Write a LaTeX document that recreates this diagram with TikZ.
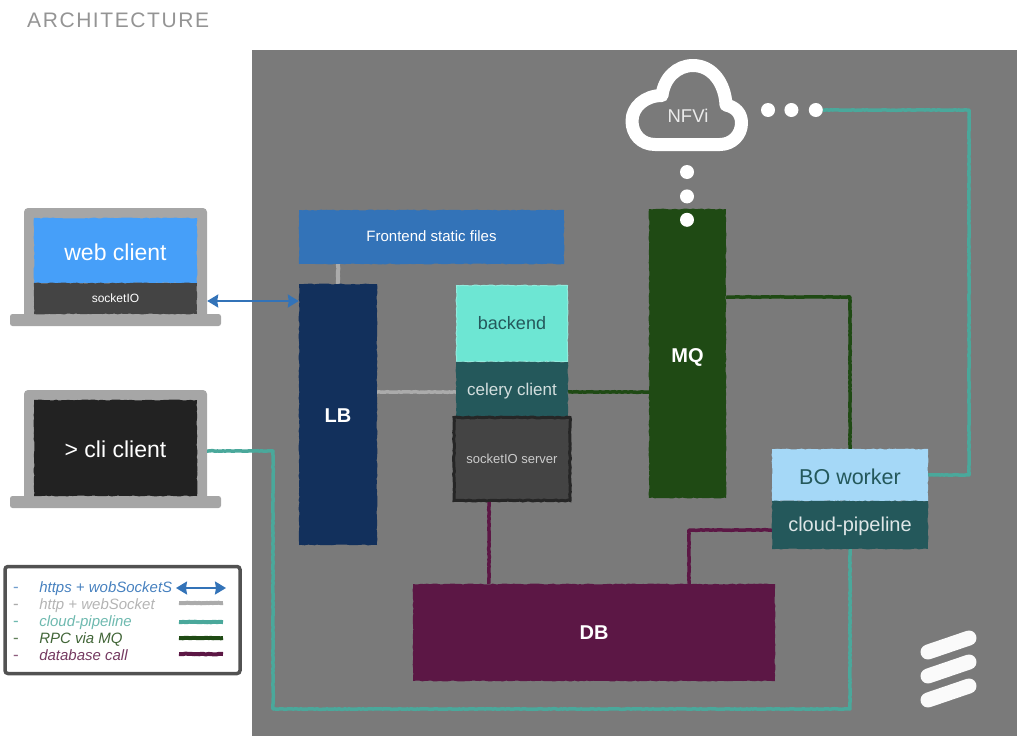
\documentclass[tikz,border=0pt]{standalone}
\usepackage{fontspec}
\setmainfont{Liberation Sans}
\newfontfamily\titlefont[LetterSpace=7.5]{Liberation Sans}
\usetikzlibrary{positioning}
\usetikzlibrary{arrows.meta}
\usetikzlibrary{decorations.pathmorphing}
\definecolor{bggray}{HTML}{7A7A7A}
\definecolor{lidgray}{HTML}{A6A6A6}
\definecolor{webblue}{HTML}{469FF9}
\definecolor{darkscreen}{HTML}{444444}
\definecolor{cliblack}{HTML}{222222}
\definecolor{frontblue}{HTML}{3373B8}
\definecolor{lbnavy}{HTML}{12305C}
\definecolor{backmint}{HTML}{6DE6D3}
\definecolor{celerytl}{HTML}{24585B}
\definecolor{mqgreen}{HTML}{1F4A14}
\definecolor{boblue}{HTML}{A5D8F7}
\definecolor{dbplum}{HTML}{5C1745}
\definecolor{pipeteal}{HTML}{4AA89B}
\definecolor{httpgray}{HTML}{ABABAB}
\newcommand{\nudgetext}[2]{\raisebox{#1}[\height][\depth]{#2}}
\tikzset{>=Stealth}
\tikzset{rough/.style={decorate, decoration={random steps, segment length=3pt, amplitude=0.5pt}}}
\tikzset{block/.style={rough, inner sep=0pt, text=white}}
\tikzset{lid/.style={fill=lidgray, rounded corners=4pt, minimum width=183pt, inner sep=0pt}}
\tikzset{base/.style={fill=lidgray, rounded corners=2.5pt, minimum width=211pt, minimum height=12pt, inner sep=0pt}}
\tikzset{dot/.style={circle, fill=white, minimum size=14pt, inner sep=0pt}}
\tikzset{wire/.style={decorate, decoration={random steps, segment length=2pt, amplitude=0.3pt}, line width=3.5pt, line join=round}}
\tikzset{socketline/.style={<->, frontblue, line width=2pt, >={Stealth[length=11pt,width=13pt,inset=1pt]}}}
\tikzset{httpline/.style={wire, httpgray}}
\tikzset{pipeline/.style={wire, pipeteal}}
\tikzset{rpcline/.style={wire, mqgreen}}
\tikzset{dbline/.style={wire, dbplum}}
\tikzset{legendtext/.style={anchor=west, inner sep=0pt, text height=11pt, text depth=3pt, font=\fontsize{15}{17}\selectfont\itshape}}
\tikzset{legenddash/.style={anchor=west, inner sep=0pt, text height=11pt, text depth=3pt, font=\fontsize{17}{17}\selectfont}}
\begin{document}
\begin{tikzpicture}[x=1pt, y=-1pt]
	\useasboundingbox (0,0) rectangle (1017,736);
	\fill [bggray] (252,50) rectangle (1017,736);
	\node [anchor=west, inner sep=0pt, text=black!42, font=\fontsize{21}{24}\selectfont\titlefont] (title) at (27,20) {ARCHITECTURE};
	%% Laptops
	\node [lid, minimum height=112pt] (weblid) at (115.5,264) {};
	\node [base] (webbase) at (115.5,320) {};
	\node [block, fill=webblue, minimum width=163pt, minimum height=65pt, font=\fontsize{23}{26}\selectfont] (webclient) at (115.5,250.5) {\nudgetext{-1.5pt}{web client}};
	\node [block, fill=darkscreen, minimum width=163pt, minimum height=31pt, font=\fontsize{12}{14}\selectfont] (socketio) at (115.5,298.5) {socketIO};
	\node [lid, minimum height=112pt] (clilid) at (115.5,446) {};
	\node [base] (clibase) at (115.5,502) {};
	\node [block, fill=cliblack, minimum width=163pt, minimum height=96pt, font=\fontsize{23}{26}\selectfont] (cliclient) at (115.5,448) {\nudgetext{-1.5pt}{> cli client}};
	%% Blocks
	\node [block, fill=frontblue, minimum width=265pt, minimum height=54pt, font=\fontsize{15}{18}\selectfont] (frontend) at (431.5,237) {\nudgetext{0.5pt}{Frontend static files}};
	\node [block, fill=lbnavy, minimum width=78pt, minimum height=261pt, font=\fontsize{20}{24}\selectfont\bfseries] (LB) at (338,414.5) {\nudgetext{-1pt}{LB}};
	\node [block, fill=backmint, draw=backmint!75!white, line width=1pt, minimum width=111pt, minimum height=76pt, text=celerytl, font=\fontsize{18}{22}\selectfont] (backend) at (512,323.5) {backend};
	\node [block, fill=celerytl, minimum width=112pt, minimum height=55pt, text=white!80!celerytl, font=\fontsize{17}{22}\selectfont] (celery) at (512,389.5) {\nudgetext{-2pt}{celery client}};
	\node [block, fill=darkscreen, draw=black!85, line width=3pt, minimum width=116pt, minimum height=83pt, text=white!80!black, font=\fontsize{13}{16}\selectfont] (sioserver) at (512,459) {\nudgetext{0.5pt}{socketIO server}};
	\node [block, fill=mqgreen, minimum width=77pt, minimum height=289pt, font=\fontsize{20}{24}\selectfont\bfseries] (MQ) at (687.5,353.5) {\nudgetext{-3.5pt}{MQ}};
	\node [block, fill=boblue, minimum width=156pt, minimum height=52pt, text=celerytl, font=\fontsize{21.5}{24}\selectfont] (boworker) at (850,475) {\nudgetext{-2pt}{BO worker}};
	\node [block, fill=celerytl, minimum width=156pt, minimum height=48pt, text=white!85!celerytl, font=\fontsize{20}{23}\selectfont] (cloudpipe) at (850,525) {\nudgetext{-1pt}{cloud-pipeline}};
	\node [block, fill=dbplum, minimum width=362pt, minimum height=97pt, font=\fontsize{20}{24}\selectfont\bfseries] (DB) at (594,632.5) {DB};
	%% NFVi cloud
	\draw [white, line width=13pt, line join=round] (655,144.5) .. controls (641,144.5) and (632,134) .. (632,121)
		.. controls (632,107) and (645,95.5) .. (662,95.5) .. controls (664,78) and (677,65.5) .. (693,65.5)
		.. controls (712,65.5) and (725,83) .. (726,105) .. controls (735,107) and (741.5,113) .. (741.5,123)
		.. controls (741.5,135) and (732,144.5) .. (720,144.5) -- cycle;
	\node [inner sep=0pt, text=white!92!black, font=\fontsize{18.5}{20}\selectfont] (nfvi) at (688,116) {NFVi};
	\node [dot] (hdot1) at (768,110) {};
	\node [dot, right=9pt of hdot1] (hdot2) {};
	\node [dot, right=10pt of hdot2] (hdot3) {};
	\node [dot] (vdot1) at (687,172) {};
	\node [dot, below=10pt of vdot1] (vdot2) {};
	\node [dot, below=9pt of vdot2] (vdot3) {};
	%% Connector waypoints
	\coordinate (webport) at (0,301);
	\coordinate (cliport) at (0,451);
	\coordinate (clibus) at (273,709);
	\coordinate (midline) at (0,392);
	\coordinate (mqport) at (0,297);
	\coordinate (nfvibus) at (969,110);
	\coordinate (siodrop) at (489,0);
	\coordinate (dbturn) at (689,530);
	%% Connectors
	\draw [socketline] (webport -| weblid.east) -- (webport -| LB.west);
	\draw [httpline, line width=4pt] (LB.north) -- (LB.north |- frontend.south);
	\draw [httpline] (midline -| LB.east) -- (midline -| celery.west);
	\draw [rpcline] (midline -| celery.east) -- (midline -| MQ.west);
	\draw [rpcline] (mqport -| MQ.east) -| (boworker.north);
	\draw [pipeline] (boworker.east) -| (nfvibus) -- (hdot3);
	\draw [pipeline] (cliport -| clilid.east) -| (clibus) -| (cloudpipe.south);
	\draw [dbline] (siodrop |- sioserver.south) -- (siodrop |- DB.north);
	\draw [dbline] (dbturn |- DB.north) -- (dbturn) -- (dbturn -| cloudpipe.west);
	%% Ericsson mark
	\draw [white!98!black, line width=15pt, line cap=round] (928,652) -- (969,638);
	\draw [white!98!black, line width=15pt, line cap=round] (928,676) -- (969,662);
	\draw [white!98!black, line width=15pt, line cap=round] (928,700) -- (969,686);
	%% Legend
	\node [draw=black!68, line width=3.5pt, rounded corners=3pt, minimum width=235pt, minimum height=107pt, inner sep=0pt] (legend) at (122.5,620) {};
	\node [legenddash, text=frontblue!70] (lgdash1) at (13,588) {-};
	\node [legenddash, text=httpgray] (lgdash2) at (13,605) {-};
	\node [legenddash, text=pipeteal!80] (lgdash3) at (13,622) {-};
	\node [legenddash, text=mqgreen!70] (lgdash4) at (13,639) {-};
	\node [legenddash, text=dbplum!70] (lgdash5) at (13,656) {-};
	\node [legendtext, text=frontblue!90, right=20pt of lgdash1] (lgtext1) {https + wobSocketS};
	\node [legendtext, text=httpgray!90, right=20pt of lgdash2] (lgtext2) {http + webSocket};
	\node [legendtext, text=pipeteal!80, right=20pt of lgdash3] (lgtext3) {cloud-pipeline};
	\node [legendtext, text=mqgreen!85, right=20pt of lgdash4] (lgtext4) {RPC via MQ};
	\node [legendtext, text=dbplum!85, right=20pt of lgdash5] (lgtext5) {database call};
	\coordinate (lgfrom1) at (176,588);
	\coordinate (lgto1) at (226,588);
	\coordinate (lgfrom2) at (179,603);
	\coordinate (lgto2) at (223,603);
	\coordinate (lgfrom3) at (179,622);
	\coordinate (lgto3) at (223,622);
	\coordinate (lgfrom4) at (179,638);
	\coordinate (lgto4) at (223,638);
	\coordinate (lgfrom5) at (179,654);
	\coordinate (lgto5) at (223,654);
	\draw [socketline] (lgfrom1) -- (lgto1);
	\draw [httpline, line width=4pt] (lgfrom2) -- (lgto2);
	\draw [pipeline, line width=4pt] (lgfrom3) -- (lgto3);
	\draw [rpcline, line width=4pt] (lgfrom4) -- (lgto4);
	\draw [dbline, line width=4pt] (lgfrom5) -- (lgto5);
\end{tikzpicture}
\end{document}
